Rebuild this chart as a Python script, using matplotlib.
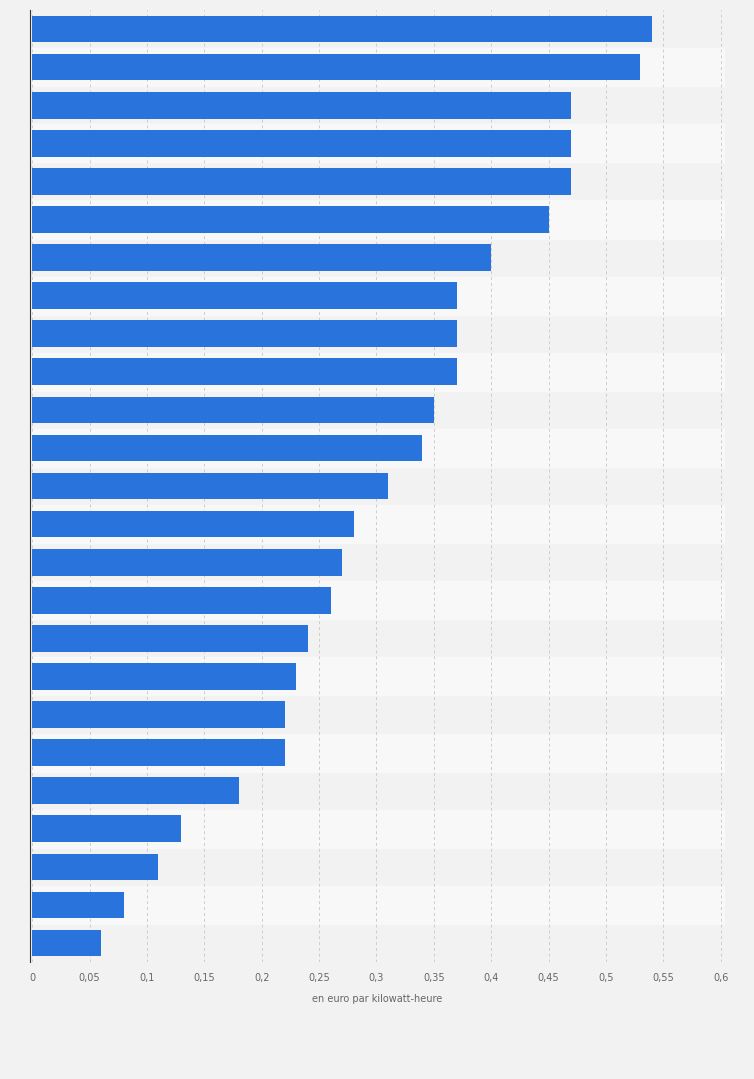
import matplotlib
matplotlib.use("Agg")
import matplotlib.pyplot as plt

values = [0.54, 0.53, 0.47, 0.47, 0.47, 0.45, 0.40, 0.37, 0.37, 0.37, 0.35, 0.34,
          0.31, 0.28, 0.27, 0.26, 0.24, 0.23, 0.22, 0.22, 0.18, 0.13, 0.11, 0.08, 0.06]
ticks = [0, 0.05, 0.1, 0.15, 0.2, 0.25, 0.3, 0.35, 0.4, 0.45, 0.5, 0.55, 0.6]
tick_labels = ["0", "0,05", "0,1", "0,15", "0,2", "0,25", "0,3", "0,35", "0,4",
               "0,45", "0,5", "0,55", "0,6"]

fig = plt.figure(figsize=(7.54, 10.79), dpi=100, facecolor="#f2f2f2")
ax = fig.add_axes([0.0398, 0.1084, 0.922, 0.8823])
ax.set_facecolor("#f2f2f2")

n = len(values)
ypos = list(range(n))
for i in ypos:
    if i % 2 == 1:
        ax.axhspan(i - 0.5, i + 0.5, color="#f8f8f8", zorder=0)
ax.barh(ypos, values, height=0.7, color="#2874dc", zorder=3)
ax.set_ylim(n - 0.5, -0.5)
ax.set_xlim(-0.002, 0.604)
ax.set_xticks(ticks)
ax.set_xticklabels(tick_labels, fontsize=7, color="#666666")
ax.set_yticks([])
ax.grid(axis="x", color="#cccccc", linestyle=(0, (3, 3)), linewidth=0.7, zorder=1)
for s in ["top", "right", "bottom"]:
    ax.spines[s].set_visible(False)
ax.spines["left"].set_color("#333333")
ax.tick_params(axis="x", length=0, pad=8)
ax.set_xlabel("en euro par kilowatt-heure", fontsize=7, color="#666666", labelpad=8)

fig.savefig("out.png", dpi=100, facecolor=fig.get_facecolor())
